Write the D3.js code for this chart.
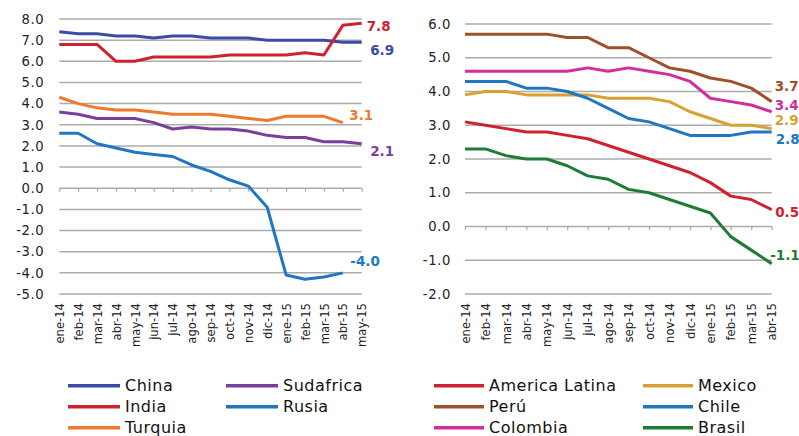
<!DOCTYPE html>
<html>
<head>
<meta charset="utf-8">
<script src="https://cdn.jsdelivr.net/npm/d3@7"></script>
<style>
  html, body { margin: 0; padding: 0; background: #fff; }
  svg { display: block; }
  text { font-family: "DejaVu Sans", sans-serif; }
</style>
</head>
<body>
<svg id="chart" width="799" height="436"></svg>
<script>
// Month labels for each panel
const monthsLeft = ["ene-14","feb-14","mar-14","abr-14","may-14","jun-14","jul-14","ago-14","sep-14","oct-14","nov-14","dic-14","ene-15","feb-15","mar-15","abr-15","may-15"];
const monthsRight = ["ene-14","feb-14","mar-14","abr-14","may-14","jun-14","jul-14","ago-14","sep-14","oct-14","nov-14","dic-14","ene-15","feb-15","mar-15","abr-15"];

// Left panel series (null = no observation)
const china     = [7.4,7.3,7.3,7.2,7.2,7.1,7.2,7.2,7.1,7.1,7.1,7.0,7.0,7.0,7.0,6.9,6.9];
const india     = [6.8,6.8,6.8,6.0,6.0,6.2,6.2,6.2,6.2,6.3,6.3,6.3,6.3,6.4,6.3,7.7,7.8];
const turquia   = [4.3,4.0,3.8,3.7,3.7,3.6,3.5,3.5,3.5,3.4,3.3,3.2,3.4,3.4,3.4,3.1,null];
const sudafrica = [3.6,3.5,3.3,3.3,3.3,3.1,2.8,2.9,2.8,2.8,2.7,2.5,2.4,2.4,2.2,2.2,2.1];
const rusia     = [2.6,2.6,2.1,1.9,1.7,1.6,1.5,1.1,0.8,0.4,0.1,-0.9,-4.1,-4.3,-4.2,-4.0,null];

// Right panel series
const americaLatina = [3.1,3.0,2.9,2.8,2.8,2.7,2.6,2.4,2.2,2.0,1.8,1.6,1.3,0.9,0.8,0.5];
const peru          = [5.7,5.7,5.7,5.7,5.7,5.6,5.6,5.3,5.3,5.0,4.7,4.6,4.4,4.3,4.1,3.7];
const colombia      = [4.6,4.6,4.6,4.6,4.6,4.6,4.7,4.6,4.7,4.6,4.5,4.3,3.8,3.7,3.6,3.4];
const mexico        = [3.9,4.0,4.0,3.9,3.9,3.9,3.9,3.8,3.8,3.8,3.7,3.4,3.2,3.0,3.0,2.9];
const chile         = [4.3,4.3,4.3,4.1,4.1,4.0,3.8,3.5,3.2,3.1,2.9,2.7,2.7,2.7,2.8,2.8];
const brasil        = [2.3,2.3,2.1,2.0,2.0,1.8,1.5,1.4,1.1,1.0,0.8,0.6,0.4,-0.3,-0.7,-1.1];

const ticksLeft = [8,7,6,5,4,3,2,1,0,-1,-2,-3,-4,-5];
const ticksRight = [6,5,4,3,2,1,0,-1,-2];

const svg = d3.select("#chart");
const fmt = v => v.toFixed(1);
const gridColor = "#ABABAB";

function panel(cfg) {
  const x = d3.scalePoint().domain(cfg.months).range(cfg.xRange);
  const y = d3.scaleLinear().domain(cfg.yDomain).range(cfg.yRange);
  const g = svg.append("g");

  // horizontal gridlines
  g.append("g").selectAll("line")
    .data(cfg.ticks.filter(t => t !== 0))
    .join("line")
    .attr("x1", cfg.xRange[0]).attr("x2", cfg.xRange[1])
    .attr("y1", d => y(d)).attr("y2", d => y(d))
    .attr("stroke", gridColor).attr("stroke-width", 1.5);

  // y tick labels
  const yAxis = g.append("g")
    .attr("transform", `translate(${cfg.xRange[0]},0)`)
    .call(d3.axisLeft(y).tickValues(cfg.ticks).tickFormat(fmt).tickSize(0).tickPadding(cfg.yPad));
  yAxis.select(".domain").remove();
  yAxis.selectAll("text")
    .attr("font-size", 13.2).attr("fill", "#222")
    .attr("letter-spacing", 0.6)
    .attr("font-family", "DejaVu Sans, sans-serif");

  // zero axis with category ticks
  const xAxis = g.append("g")
    .attr("transform", `translate(0,${y(0)})`)
    .call(d3.axisBottom(x).tickSize(3.5).tickFormat(""));
  xAxis.select(".domain").attr("stroke", gridColor).attr("stroke-width", 1.5)
    .attr("d", `M${cfg.xRange[0]},0H${cfg.xRange[1]}`);
  xAxis.selectAll(".tick line").attr("stroke", gridColor).attr("stroke-width", 1.3);

  // rotated month labels under the plot
  const xLab = g.append("g")
    .attr("transform", `translate(0,${cfg.yRange[0]})`)
    .call(d3.axisBottom(x).tickSize(0).tickPadding(0));
  xLab.select(".domain").remove();
  xLab.selectAll("text")
    .attr("font-size", 11.6).attr("fill", "#222")
    .attr("font-family", "DejaVu Sans, sans-serif")
    .attr("text-anchor", "end")
    .attr("transform", "rotate(-90)")
    .attr("x", -9).attr("y", 0).attr("dy", "0.36em");

  // series lines
  const line = d3.line()
    .defined(d => d.v !== null)
    .x(d => x(d.m)).y(d => y(d.v));
  cfg.series.forEach(s => {
    const pts = s.values.map((v, i) => ({ m: cfg.months[i], v }));
    g.append("path")
      .datum(pts)
      .attr("d", line)
      .attr("fill", "none")
      .attr("stroke", s.color)
      .attr("stroke-width", 3)
      .attr("stroke-linejoin", "round");
    // end-value label
    const last = pts.filter(p => p.v !== null).pop();
    g.append("text")
      .attr("x", x(last.m) + s.dx)
      .attr("y", y(last.v) + s.dy)
      .attr("dy", "0.36em")
      .attr("font-size", 13.5)
      .attr("font-weight", "bold")
      .attr("fill", s.color)
      .text(fmt(last.v));
  });

  // legend
  const lg = g.append("g");
  cfg.series.forEach((s, i) => {
    const col = cfg.legendOrder[i][0], row = cfg.legendOrder[i][1];
    const lx = cfg.legendX[col], ly = cfg.legendY + row * 21;
    lg.append("line")
      .attr("x1", lx).attr("x2", lx + cfg.legendLine)
      .attr("y1", ly).attr("y2", ly)
      .attr("stroke", s.color).attr("stroke-width", 3.5);
    lg.append("text")
      .attr("x", lx + cfg.legendLine + 5)
      .attr("y", ly).attr("dy", "0.36em")
      .attr("font-size", 16).attr("letter-spacing", 0.5)
      .attr("fill", "#111")
      .text(s.name);
  });
}

panel({
  months: monthsLeft,
  xRange: [59.3, 361.7],
  yDomain: [-5, 8],
  yRange: [294, 19],
  yPad: 15,
  ticks: ticksLeft,
  legendX: [68, 226],
  legendY: 385.7,
  legendLine: 52,
  legendOrder: [[0,0],[0,1],[0,2],[1,0],[1,1]],
  series: [
    { name: "China",     values: china,     color: "#3B4BA6", dx: 8.5, dy: 8 },
    { name: "India",     values: india,     color: "#D0222E", dx: 5,   dy: 3 },
    { name: "Turquia",   values: turquia,   color: "#EF7A2A", dx: 6.5, dy: -8 },
    { name: "Sudafrica", values: sudafrica, color: "#7A3F9D", dx: 8.5, dy: 7 },
    { name: "Rusia",     values: rusia,     color: "#1F77C4", dx: 7.5, dy: -12 }
  ]
});

panel({
  months: monthsRight,
  xRange: [465, 771.7],
  yDomain: [-2, 6],
  yRange: [294, 24],
  yPad: 14,
  ticks: ticksRight,
  legendX: [434, 643],
  legendY: 385.7,
  legendLine: 50,
  legendOrder: [[0,0],[0,1],[0,2],[1,0],[1,1],[1,2]],
  series: [
    { name: "America Latina", values: americaLatina, color: "#D0222E", dx: 3.5, dy: 3 },
    { name: "Perú",           values: peru,          color: "#9E5129", dx: 3,   dy: -15 },
    { name: "Colombia",       values: colombia,      color: "#D42C9E", dx: 3,   dy: -6.5 },
    { name: "Mexico",         values: mexico,        color: "#D9A12F", dx: 3,   dy: -8 },
    { name: "Chile",          values: chile,         color: "#1F77C4", dx: 4,   dy: 7.5 },
    { name: "Brasil",         values: brasil,        color: "#1E7C36", dx: -1.5, dy: -8 }
  ]
});
</script>
</body>
</html>
